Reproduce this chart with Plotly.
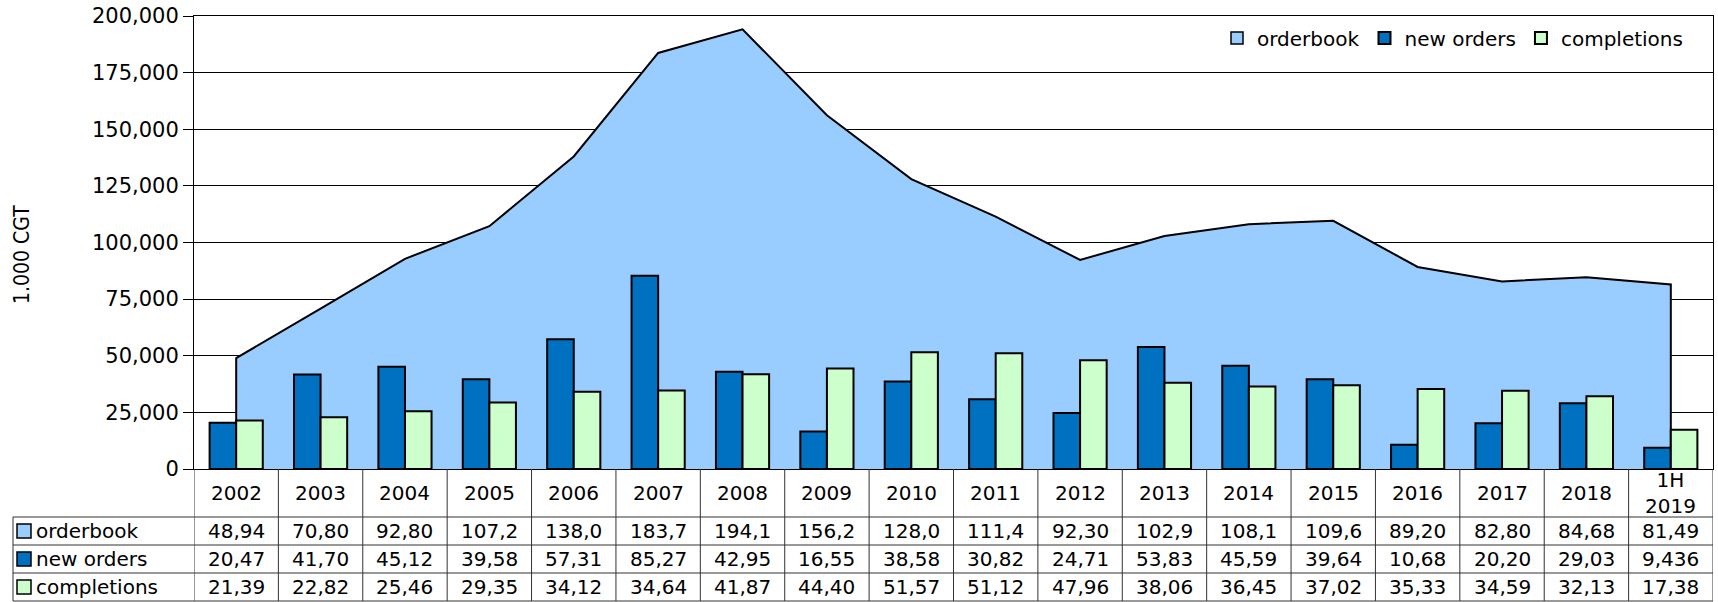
import plotly.graph_objects as go

# --- data (1,000 CGT) ---
years = ["2002", "2003", "2004", "2005", "2006", "2007", "2008", "2009", "2010",
         "2011", "2012", "2013", "2014", "2015", "2016", "2017", "2018", "1H<br>2019"]
orderbook = [48940, 70800, 92800, 107200, 138000, 183700, 194100, 156200, 128000,
             111400, 92300, 102900, 108100, 109600, 89200, 82800, 84680, 81490]
new_orders = [20470, 41700, 45120, 39580, 57310, 85270, 42950, 16550, 38580,
              30820, 24710, 53830, 45590, 39640, 10680, 20200, 29030, 9436]
completions = [21390, 22820, 25460, 29350, 34120, 34640, 41870, 44400, 51570,
               51120, 47960, 38060, 36450, 37020, 35330, 34590, 32130, 17380]

C_OB = "#99CCFF"
C_NEW = "#0070C0"
C_DONE = "#CCFFCC"
FONT = "DejaVu Sans"
FS = 20

W, H = 1718, 602
L, R, T, B = 194, 5, 16, 133
pw, ph = W - L - R, H - T - B


def px(x):
    # pixel -> paper x
    return (x - L) / pw


def py(y):
    # pixel -> paper y
    return (H - B - y) / ph


def table_cell(v):
    # the table shows the first 4 digits, like a too narrow Excel cell
    return f"{v:,}"[:5]


fig = go.Figure()

# orderbook area (closed down to the base so the edges get an outline)
fig.add_trace(go.Scatter(
    x=[years[0]] + years + [years[-1]],
    y=[0] + orderbook + [0],
    mode="lines", fill="toself", fillcolor=C_OB,
    line=dict(color="black", width=2),
    name="orderbook", showlegend=False, xaxis="x", yaxis="y",
))
# legend entry for the area, drawn as a square like the bars
fig.add_trace(go.Bar(
    x=[years[0]], y=[None], name="orderbook", legendrank=1,
    marker=dict(color=C_OB, line=dict(color="black", width=1.5)),
    xaxis="x", yaxis="y", hoverinfo="skip",
))
fig.add_trace(go.Bar(
    x=years, y=new_orders, name="new orders", legendrank=2,
    marker=dict(color=C_NEW, line=dict(color="black", width=2)),
    xaxis="x2", yaxis="y2",
))
fig.add_trace(go.Bar(
    x=years, y=completions, name="completions", legendrank=3,
    marker=dict(color=C_DONE, line=dict(color="black", width=2)),
    xaxis="x2", yaxis="y2",
))

n = len(years)
shapes = []
annotations = []

# table grid
for yy in [517, 545, 573, 601]:
    shapes.append(dict(type="line", xref="paper", yref="paper",
                       x0=px(13), x1=1, y0=py(yy), y1=py(yy),
                       line=dict(color="#333", width=1)))
for i in range(n + 1):
    shapes.append(dict(type="line", xref="x", yref="paper",
                       x0=i - 0.5, x1=i - 0.5, y0=0, y1=py(601),
                       line=dict(color="#333", width=1)))
shapes.append(dict(type="line", xref="paper", yref="paper",
                   x0=px(13), x1=px(13), y0=py(517), y1=py(601),
                   line=dict(color="#333", width=1)))

rows = [("orderbook", orderbook, C_OB, 531),
        ("new orders", new_orders, C_NEW, 559),
        ("completions", completions, C_DONE, 587)]

for i, yr in enumerate(years):
    annotations.append(dict(x=i, xref="x", xanchor="center",
                            y=py(493), yref="paper", yanchor="middle",
                            text=yr, showarrow=False,
                            font=dict(size=FS, color="black")))

for label, vals, col, yc in rows:
    shapes.append(dict(type="rect", xref="paper", yref="paper",
                       x0=px(17), x1=px(31), y0=py(yc + 7), y1=py(yc - 7),
                       fillcolor=col, line=dict(color="black", width=1.5)))
    annotations.append(dict(x=px(34), xref="paper", xanchor="left",
                            y=py(yc), yref="paper", yanchor="middle",
                            text=label, showarrow=False,
                            font=dict(size=FS, color="black")))
    for i, v in enumerate(vals):
        annotations.append(dict(x=i, xref="x", xanchor="center",
                                y=py(yc), yref="paper", yanchor="middle",
                                text=table_cell(v), showarrow=False,
                                font=dict(size=FS, color="black")))

# y axis title
annotations.append(dict(x=px(22), xref="paper", xanchor="center",
                        y=py(255), yref="paper", yanchor="middle",
                        text="1.000 CGT", textangle=-90, showarrow=False,
                        font=dict(family="DejaVu Sans Condensed, Liberation Sans",
                                  size=21, color="black")))

fig.update_layout(
    width=W, height=H,
    margin=dict(l=L, r=R, t=T, b=B, autoexpand=False),
    paper_bgcolor="white", plot_bgcolor="white",
    font=dict(family=FONT, size=FS, color="black"),
    barmode="group", bargap=0.37, bargroupgap=0,
    showlegend=True,
    legend=dict(orientation="h", x=px(1688), xanchor="right",
                y=py(38), yanchor="middle",
                bgcolor="rgba(0,0,0,0)", font=dict(size=FS)),
    xaxis=dict(type="category", range=[-0.5, n - 0.5], showticklabels=False,
               ticks="", showgrid=False, showline=True, linecolor="black",
               linewidth=1, mirror=True, zeroline=False, automargin=False),
    yaxis=dict(range=[0, 200000], dtick=25000, tickformat=",",
               showgrid=True, gridcolor="black", gridwidth=1,
               showline=True, linecolor="black", linewidth=1, mirror=True,
               ticks="outside", ticklen=10, tickcolor="black",
               zeroline=False, tickfont=dict(size=21), automargin=False),
    xaxis2=dict(type="category", overlaying="x", range=[-0.5, n - 0.5], visible=False),
    yaxis2=dict(overlaying="y", range=[0, 200000], visible=False),
    shapes=shapes,
    annotations=annotations,
)

# drop the default page margin so the figure fills the window exactly
fig.write_html("out.html", config={"displayModeBar": False},
               post_script="document.body.style.margin='0';document.body.style.overflow='hidden';")
